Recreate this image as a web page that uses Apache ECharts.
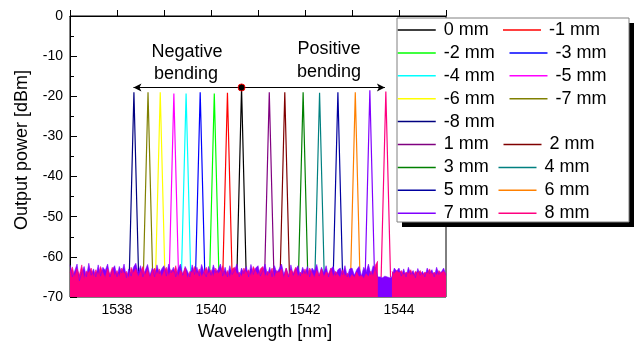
<!DOCTYPE html>
<html>
<head>
<meta charset="utf-8">
<script src="https://cdn.jsdelivr.net/npm/echarts@6/dist/echarts.min.js"></script>
<style>
  html, body { margin: 0; padding: 0; background: #fff; }
  #chart { width: 639px; height: 348px; }
</style>
</head>
<body>
<div id="chart"></div>
<script>
// series names, in legend order
const labels = ['0 mm', '-1 mm', '-2 mm', '-3 mm', '-4 mm', '-5 mm', '-6 mm', '-7 mm', '-8 mm',
  '1 mm', '2 mm', '3 mm', '4 mm', '5 mm', '6 mm', '7 mm', '8 mm']
// peak wavelength [nm] and peak power [dBm] of each spectrum
const peakWl = [1540.65, 1540.35, 1540.07, 1539.77, 1539.47, 1539.21, 1538.92, 1538.66, 1538.36,
  1541.24, 1541.57, 1541.96, 1542.31, 1542.70, 1543.07, 1543.38, 1543.72]
const peakDb = [-17.9, -19.1, -19.3, -19.0, -19.3, -19.3, -19.0, -19.0, -19.0,
  -19.0, -19.0, -19.0, -19.1, -19.0, -19.0, -18.5, -18.8]
// where each line meets the noise floor
const footDb = -65
const footHalfWidth = 0.1

// noise floor, sampled every 0.05 nm from 1537 nm (null = hidden by the 8 mm line itself)
const noiseStart = 1537
const noiseStep = 0.05
const noisePink = [
  -64, -62.5, -65, -63, -64.5, -62, -65.5, -63.5, -64, -62.8, -65, -63.2, -64.6, -62.4, -64, -65.2, -63, -64.4, -62.6, -64.8,
  -63.4, -65, -62.8, -64.2, -63.6, -65.4, -62.6, -64, -63, -65, -63.8, -62.4, -64.6, -63.2, -65.2, -63.6, -62.8, -64.4, -63, -65,
  -63.6, -62.6, -64.8, -63.2, -64, -62.2, -65, -63.4, -64.2, -62.8, -65.4, -63.6, -64, -62.4, -64.6, -63, -65, -63.8, -62.6, -64.4,
  -63.2, -65, -62.8, -64.2, -63.6, -62.2, -64.8, -63.4, -65.2, -63, -62.6, -64.4, -63.8, -65, -62.8, -64, -63.2, -64.8, -62.4, -63.6,
  -64.6, -63, -62.4, -65, -63.6, -64.2, -62.8, -65.2, -63.4, -64, -63, -65.4, -62.8, -64.6, -63.2, -64, -62.6, -65, -63.8, -64.4,
  -63, -64.8, -62.8, -64, -65.2, -63.4, -64.6, -63, -65, -63.8, -64.2, -62.8, -65, -63.6, -64.4, -65.2, -63.2, -64.8, -64, -65.4,
  -64.4, -65.2, -63.8, -65, -64.6, -65.4, -64.2, -65, -63.6, -64.8, -62, -61, null, null, null, null, null, -63.6, -64.2, -63.4,
  -64, -63.4, -64.6, -63.8, -64.2, -63.2, -64.8, -63.6, -64, -63.4, -64.6, -63.8, -64.2, -63, -64.4, -63.8, -64.6, -63.4, -64, -63.6,
  -64.2
]
const noiseViolet = [
  -62, -65, -63.5, -61.8, -66, -64, -62.4, -65, -61.6, -64.6, -63, -65, -62, -64.8, -62.6, -63.4, -61.8, -65, -63.2, -62.2,
  -65, -62.4, -64, -61.8, -65.2, -63, -64.8, -62.6, -61.6, -64, -62.2, -65, -63.4, -61.9, -64.6, -62.8, -65, -62, -64.2, -63,
  -62.2, -64.8, -61.8, -64, -62.6, -65, -63, -61.8, -64.6, -62.4, -63.6, -65, -62, -64.4, -62.6, -64.8, -61.9, -63.8, -65, -62.4,
  -64.6, -62, -64, -63.2, -61.8, -64.8, -62.6, -65, -62.2, -64.4, -63.4, -61.8, -65, -62.8, -64.2, -62.4, -65, -61.9, -64.4, -62.8,
  -62.2, -64.8, -63.4, -61.8, -64.6, -62.6, -65, -62.2, -64, -63, -61.8, -64.4, -62.8, -65, -62, -64.6, -63.2, -62.2, -64.8, -62.6,
  -64.2, -62.4, -65, -62.8, -63.6, -61.9, -64.8, -62.6, -64, -62.2, -65, -63, -62.4, -64.6, -63.2, -62.8, -64.4, -62.2, -65, -63,
  -62.8, -64.6, -63.2, -62.4, -64.8, -62.6, -63.8, -61.8, -64.4, -62.2, -63, -65, -65, -65.2, -64.8, -65, -65.2, -65, -62.8, -63.6,
  -62.8, -64.8, -63, -65, -62.6, -64.4, -63.4, -65.2, -62.9, -64.6, -63.6, -65, -62.8, -64.2, -63.2, -65, -62.6, -64.4, -63.8, -62.8,
  -64.6
]

// arrow across the peaks and its centre dot
const arrowDb = -17.8
const arrowFrom = 1538.35
const arrowTo = 1543.70
const arrowMid = 1540.65

const colors = ['#000000', '#ff0000', '#00ff00', '#0000ff', '#00ffff', '#ff00ff', '#ffff00', '#808000', '#000080',
  '#800080', '#800000', '#008000', '#008080', '#0000a0', '#ff8000', '#8000ff', '#ff0080']

const font = 'Liberation Sans, Arial, sans-serif'

// legend layout: rows of label indexes, gap between the two columns
const legendRows = [[0, 1], [2, 3], [4, 5], [6, 7], [8], [9, 10], [11, 12], [13, 14], [15, 16]]
const rowGaps = [13.5, 14, 14, 14, 14, 14, 9, 9, 9]

const chart = echarts.init(document.getElementById('chart'))

const noiseData = (vals) => vals.map((v, i) => [noiseStart + i * noiseStep, v])

const peakSeries = labels.map((name, i) => {
  const s = {
    name,
    type: 'line',
    symbol: 'none',
    silent: true,
    z: 2,
    lineStyle: { color: colors[i], width: 1.2 },
    itemStyle: { color: colors[i] },
    data: [
      [peakWl[i] - footHalfWidth, footDb],
      [peakWl[i], peakDb[i]],
      [peakWl[i] + footHalfWidth, footDb],
    ],
  }
  if (i === 0) {
    s.markLine = {
      silent: true,
      symbol: ['arrow', 'arrow'],
      symbolSize: [6, 8],
      label: { show: false },
      lineStyle: { color: '#000', width: 1, type: 'solid' },
      data: [[{ coord: [arrowFrom, arrowDb] }, { coord: [arrowTo, arrowDb] }]],
    }
    s.markPoint = {
      silent: true,
      symbol: 'circle',
      symbolSize: 7,
      label: { show: false },
      itemStyle: { color: '#000', borderColor: '#ff0000', borderWidth: 1 },
      data: [{ coord: [arrowMid, arrowDb] }],
    }
  }
  return s
})

const noiseSeries = [
  { data: noiseData(noiseViolet), color: '#8000ff' },
  { data: noiseData(noisePink), color: '#ff0080' },
].map((n, k) => ({
  name: 'noise' + k,
  type: 'line',
  symbol: 'none',
  silent: true,
  connectNulls: false,
  z: 3,
  lineStyle: { color: n.color, width: 0.6 },
  areaStyle: { color: n.color, opacity: 1, origin: 'start' },
  data: n.data,
}))

const legends = legendRows.map((row, r) => ({
  data: row.map((i) => labels[i]),
  left: 397,
  top: 21 + r * 22.9,
  padding: 0,
  itemGap: rowGaps[r],
  itemWidth: 38,
  itemHeight: 18,
  selectedMode: false,
  z: 6,
  lineStyle: { width: 1.5 },
  itemStyle: { color: 'transparent', borderColor: 'transparent', borderWidth: 0, opacity: 0 },
  textStyle: { fontFamily: font, fontSize: 18, color: '#000', padding: [0, 0, 0, 3] },
}))

chart.setOption({
  animation: false,
  backgroundColor: '#fff',
  grid: { left: 70, right: 193, top: 16, bottom: 51, show: true, borderColor: '#000', borderWidth: 1 },
  xAxis: {
    type: 'value',
    min: 1537,
    max: 1545,
    interval: 1,
    name: 'Wavelength [nm]',
    nameLocation: 'middle',
    nameGap: 26,
    nameTextStyle: { fontFamily: font, fontSize: 18, color: '#000', padding: [0, 0, 0, 14] },
    axisLine: { lineStyle: { color: '#000', width: 1 } },
    axisTick: { inside: true, length: 6, lineStyle: { color: '#000' } },
    splitLine: { show: false },
    axisLabel: {
      fontFamily: font, fontSize: 14, color: '#000', margin: 6,
      formatter: (v) => (v % 2 === 0 ? String(v) : ''),
    },
  },
  yAxis: {
    type: 'value',
    min: -70,
    max: 0,
    interval: 10,
    name: 'Output power [dBm]',
    nameLocation: 'middle',
    nameGap: 39,
    nameTextStyle: { fontFamily: font, fontSize: 18, color: '#000', padding: [0, 0, 0, 13] },
    axisLine: { show: true, lineStyle: { color: '#000', width: 1 } },
    axisTick: { inside: true, length: 7, lineStyle: { color: '#000' } },
    minorTick: { show: true, splitNumber: 2, length: 4, lineStyle: { color: '#000' } },
    splitLine: { show: false },
    axisLabel: { fontFamily: font, fontSize: 14, color: '#000', margin: 7 },
  },
  legend: legends,
  graphic: [
    { type: 'rect', z: 4, silent: true, shape: { x: 402, y: 23, width: 232, height: 204 }, style: { fill: '#000' } },
    { type: 'rect', z: 5, silent: true, shape: { x: 397, y: 18, width: 232, height: 204 },
      style: { fill: '#fff', stroke: '#808080', lineWidth: 1 } },
    { type: 'text', z: 5, silent: true, x: 187, y: 52,
      style: { text: 'Negative', font: '18px ' + font, fill: '#000', align: 'center', verticalAlign: 'middle' } },
    { type: 'text', z: 5, silent: true, x: 186, y: 74,
      style: { text: 'bending', font: '18px ' + font, fill: '#000', align: 'center', verticalAlign: 'middle' } },
    { type: 'text', z: 5, silent: true, x: 329, y: 49,
      style: { text: 'Positive', font: '18px ' + font, fill: '#000', align: 'center', verticalAlign: 'middle' } },
    { type: 'text', z: 5, silent: true, x: 329, y: 72,
      style: { text: 'bending', font: '18px ' + font, fill: '#000', align: 'center', verticalAlign: 'middle' } },
  ],
  series: peakSeries.concat(noiseSeries),
})
</script>
</body>
</html>
